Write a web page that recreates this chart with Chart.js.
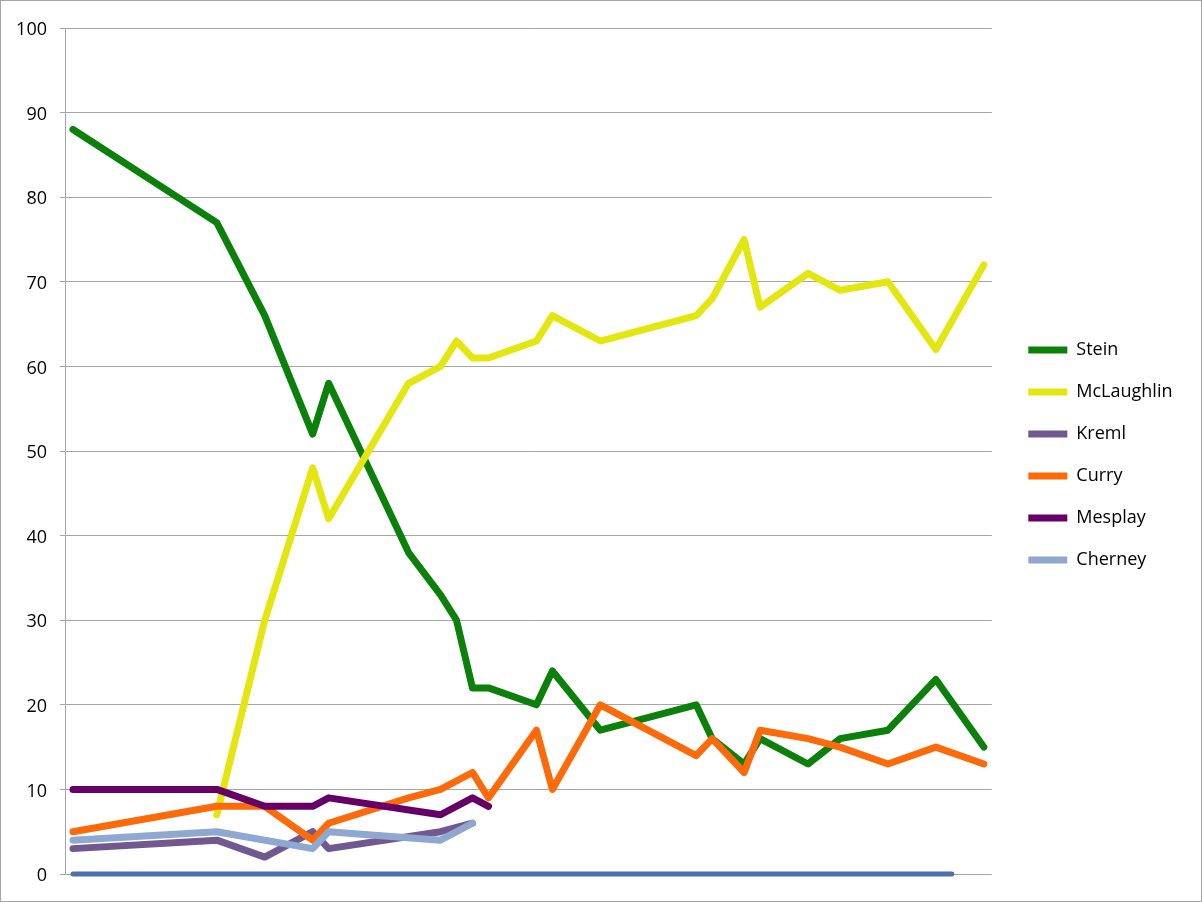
<!DOCTYPE html>
<html>
<head>
<meta charset="utf-8">
<script src="https://cdn.jsdelivr.net/npm/chart.js@4.4.1/dist/chart.umd.min.js"></script>
<style>
  html, body { margin: 0; padding: 0; background: #fff; }
  #wrap { width: 1200px; height: 900px; border: 1px solid #a6a6a6; }
</style>
</head>
<body>
<div id="wrap"><canvas id="chartEncuesta" width="1200" height="900"></canvas></div>
<script>
// posiciones (indice de encuesta, 0..57) y valores de cada candidato
const steinAt  = [0, 9, 12, 15, 16, 21, 23, 24, 25, 26, 29, 30, 33, 39, 40, 42, 43, 46, 48, 51, 54, 57];
const stein    = [88, 77, 66, 52, 58, 38, 33, 30, 22, 22, 20, 24, 17, 20, 16, 13, 16, 13, 16, 17, 23, 15];
const mclAt    = [9, 12, 15, 16, 21, 23, 24, 25, 26, 29, 30, 33, 39, 40, 42, 43, 46, 48, 51, 54, 57];
const mcl      = [7, 30, 48, 42, 58, 60, 63, 61, 61, 63, 66, 63, 66, 68, 75, 67, 71, 69, 70, 62, 72];
const kremlAt  = [0, 9, 12, 15, 16, 23, 25];
const kreml    = [3, 4, 2, 5, 3, 5, 6];
const curryAt  = [0, 9, 12, 15, 16, 21, 23, 25, 26, 29, 30, 33, 39, 40, 42, 43, 46, 48, 51, 54, 57];
const curry    = [5, 8, 8, 4, 6, 9, 10, 12, 9, 17, 10, 20, 14, 16, 12, 17, 16, 15, 13, 15, 13];
const mesplayAt = [0, 9, 12, 15, 16, 23, 25, 26];
const mesplay   = [10, 10, 8, 8, 9, 7, 9, 8];
const cherneyAt = [0, 9, 15, 16, 23, 25];
const cherney   = [4, 5, 3, 5, 4, 6];
const ceroAt = [0, 55];
const cero   = [0, 0];

const yTicks = [0, 10, 20, 30, 40, 50, 60, 70, 80, 90, 100];

const pts = (at, vals) => at.map((x, i) => ({ x: x, y: vals[i] }));

const serie = (label, at, vals, color, order, width) => ({
    label: label,
    data: pts(at, vals),
    borderColor: color,
    backgroundColor: color,
    borderWidth: width || 7,
    borderCapStyle: 'round',
    borderJoinStyle: 'round',
    pointRadius: 0,
    pointHoverRadius: 0,
    tension: 0,
    clip: 8,
    order: order,
});

const FONT = '"Open Sans", "DejaVu Sans", sans-serif';

const chartEl = document.getElementById('chartEncuesta');
const chart = new Chart(chartEl, {
    type: 'line',
    data: {
        datasets: [
            serie('Stein', steinAt, stein, '#0b800b', 6),
            serie('McLaughlin', mclAt, mcl, '#e3e70f', 5),
            serie('Kreml', kremlAt, kreml, '#71588f', 4),
            serie('Curry', curryAt, curry, '#fd6a0a', 3),
            serie('Mesplay', mesplayAt, mesplay, '#660066', 2),
            serie('Cherney', cherneyAt, cherney, '#8fa8d0', 1),
            serie('', ceroAt, cero, '#4a72a8', 0, 5),
        ]
    },
    options: {
        responsive: false,
        animation: false,
        layout: { padding: { top: 27, bottom: 27, left: 0, right: 18.5 } },
        plugins: {
            tooltip: { enabled: false },
            legend: {
                position: 'right',
                // titulo vacio solo para bajar un poco las entradas
                title: { display: true, text: '', padding: 0, font: { size: 8, lineHeight: 1 } },
                labels: {
                    usePointStyle: true,
                    pointStyle: 'line',
                    pointStyleWidth: 39,
                    boxHeight: 7,
                    padding: 24,
                    color: '#000',
                    font: { family: FONT, size: 18, lineHeight: 1 },
                    filter: item => item.text !== '',
                    sort: (a, b) => a.datasetIndex - b.datasetIndex
                }
            }
        },
        scales: {
            x: {
                type: 'linear',
                min: -0.5, max: 57.5,
                display: false
            },
            y: {
                min: 0, max: 100,
                afterBuildTicks: s => { s.ticks = yTicks.map(v => ({ value: v })); },
                ticks: { color: '#000', padding: 13, labelOffset: 2, font: { family: FONT, size: 18 } },
                grid: { color: '#a6a6a6', lineWidth: 1, tickLength: 5 },
                border: { color: '#a6a6a6', width: 1 },
                afterFit: s => { s.width = 64; }
            },
            yDer: {
                position: 'right',
                display: true,
                grid: { display: false },
                ticks: { display: false },
                border: { display: false },
                afterFit: s => { s.width = 12.5; }
            }
        }
    }
});
</script>
</body>
</html>
